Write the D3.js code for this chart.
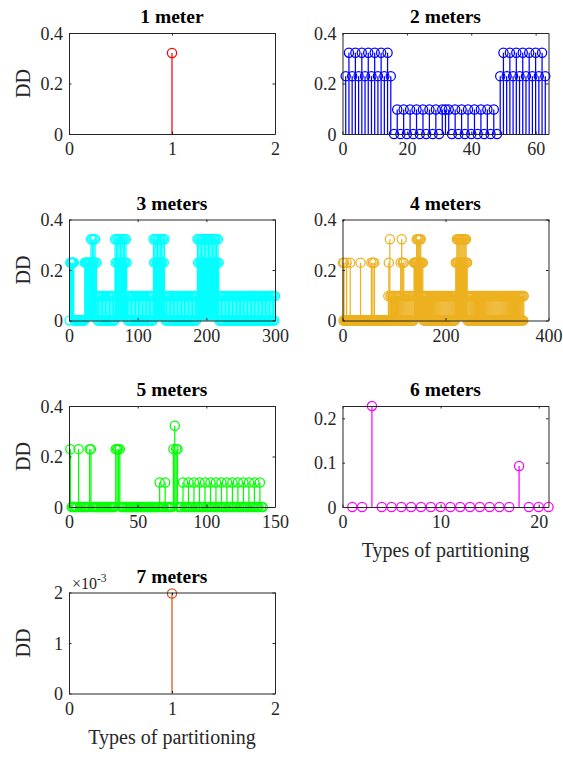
<!DOCTYPE html>
<html>
<head>
<meta charset="utf-8">
<script src="https://cdn.jsdelivr.net/npm/d3@7"></script>
<style>
  body { margin: 0; background: #fff; }
  svg { display: block; }
  text { font-family: 'Liberation Serif', 'Times New Roman', serif; }
</style>
</head>
<body>
<svg id="fig"></svg>
<script>
// ---- data ----
const titles = ["1 meter", "2 meters", "3 meters", "4 meters", "5 meters", "6 meters", "7 meters"];
const colors = ["#ff0000", "#0000ff", "#00ffff", "#edb120", "#00ff00", "#ff00ff", "#d95319"];

const dd1 = [.321];

const dd2 = [
  .229, .322, .229, .322, .229, .322, .229, .322, .229, .322, .229, .322, .229, .322, .229,
  0, .097, 0, .097, 0, .097, 0, .097, 0, .097, 0, .097, 0, .097, 0, .097,
  .097,
  .097, 0, .097, 0, .097, 0, .097, 0, .097, 0, .097, 0, .097, 0, .097, 0,
  .229, .322, .229, .322, .229, .322, .229, .322, .229, .322, .229, .322, .229, .322, .229
];

const dd3 = [
  // 1-22
  0, .229, .229, .229, .229, .229, .229, 0, 0, 0, 0, 0, 0, 0, 0, 0, 0, 0, 0, 0, 0, 0,
  // 23-40
  .229, .229, .229, .229, .229, .229, .229, .229, .229, .322, .229, .322, .229, .322, .229, .322, .229, .229,
  // 41-66
  .097, 0, .097, 0, .097, 0, .097, 0, .097, 0, .097, 0, .097, 0, .097, 0, .097, 0, .097, 0, .097, 0, .097, 0, .097, 0,
  // 67-84
  .322, .229, .322, .229, .322, .229, .322, .229, .322, .229, .322, .229, .322, .229, .322, .229, .322, .229,
  // 85-122
  .097, 0, .097, 0, .097, 0, .097, 0, .097, 0, .097, 0, .097, 0, .097, 0, .097, 0, .097, 0,
  .097, 0, .097, 0, .097, 0, .097, 0, .097, 0, .097, 0, .097, 0, .097, 0, .097, 0,
  // 123-139
  .322, .229, .322, .229, .322, .229, .322, .229, .322, .229, .322, .229, .322, .229, .322, .229, .322,
  // 140-186
  .097, 0, .097, 0, .097, 0, .097, 0, .097, 0, .097, 0, .097, 0, .097, 0, .097, 0, .097, 0,
  .097, 0, .097, 0, .097, 0, .097, 0, .097, 0, .097, 0, .097, 0, .097, 0, .097, 0, .097, 0,
  .097, 0, .097, 0, .097, 0, .097,
  // 187-218
  .322, .229, .322, .229, .322, .229, .322, .229, .322, .229, .322, .229, .322, .229, .322, .229,
  .322, .229, .322, .229, .322, .229, .322, .229, .322, .229, .322, .229, .322, .229, .322, .229,
  // 219-300
  0, .097, 0, .097, 0, .097, 0, .097, 0, .097, 0, .097, 0, .097, 0, .097, 0, .097, 0, .097,
  0, .097, 0, .097, 0, .097, 0, .097, 0, .097, 0, .097, 0, .097, 0, .097, 0, .097, 0, .097,
  0, .097, 0, .097, 0, .097, 0, .097, 0, .097, 0, .097, 0, .097, 0, .097, 0, .097, 0, .097,
  0, .097, 0, .097, 0, .097, 0, .097, 0, .097, 0, .097, 0, .097, 0, .097, 0, .097, 0, .097,
  0, .097
];

const dd4 = [
  // 1-15
  .229, 0, .229, 0, 0, 0, 0, .229, 0, 0, 0, 0, 0, 0, .229,
  // 16-34
  0, 0, 0, 0, 0, 0, 0, 0, 0, 0, 0, 0, 0, 0, 0, 0, 0, 0, 0,
  // 35
  .229,
  // 36-55
  0, 0, 0, 0, 0, 0, 0, 0, 0, 0, 0, 0, 0, 0, 0, 0, 0, 0, 0, 0,
  // 56-62
  .229, 0, 0, .229, 0, 0, .229,
  // 63-88
  0, 0, 0, 0, 0, 0, 0, 0, 0, 0, 0, 0, 0, 0, 0, 0, 0, 0, 0, 0, 0, 0, 0, 0, 0, 0,
  // 89-92
  .097, .229, 0, .322,
  // 93-112
  .097, 0, .097, 0, .097, 0, .097, 0, .097, 0, .097, 0, .097, 0, .097, 0, .097, 0, .097, 0,
  // 113-120
  .229, 0, .322, 0, .229, 0, .229, 0,
  // 121-138
  .097, 0, .097, 0, .097, 0, .097, 0, .097, 0, .097, 0, .097, 0, .097, 0, .097, 0,
  // 139-160
  .229, .229, .229, .229, .229, .322, .229, .322, .229, .322, .229, .322, .229, .322, .229,
  .229, .097, .229, .097, 0, .097, 0,
  // 161-219
  .097, 0, .097, 0, .097, 0, .097, 0, .097, 0, .097, 0, .097, 0, .097, 0, .097, 0, .097, 0,
  .097, 0, .097, 0, .097, 0, .097, 0, .097, 0, .097, 0, .097, 0, .097, 0, .097, 0, .097, 0,
  .097, 0, .097, 0, .097, 0, .097, 0, .097, 0, .097, 0, .097, 0, .097, 0, .097, 0, .097,
  // 220-242
  .229, .229, .322, .229, .322, .229, .322, .229, .322, .229, .322, .229, .322, .229, .322, .229,
  .322, .229, .322, .229, .322, .229, .229,
  // 243-352
  0, .097, 0, .097, 0, .097, 0, .097, 0, .097, 0, .097, 0, .097, 0, .097, 0, .097, 0, .097,
  0, .097, 0, .097, 0, .097, 0, .097, 0, .097, 0, .097, 0, .097, 0, .097, 0, .097, 0, .097,
  0, .097, 0, .097, 0, .097, 0, .097, 0, .097, 0, .097, 0, .097, 0, .097, 0, .097, 0, .097,
  0, .097, 0, .097, 0, .097, 0, .097, 0, .097, 0, .097, 0, .097, 0, .097, 0, .097, 0, .097,
  0, .097, 0, .097, 0, .097, 0, .097, 0, .097, 0, .097, 0, .097, 0, .097, 0, .097, 0, .097,
  0, .097, 0, .097, 0, .097, 0, .097, 0, .097
];

const dd5 = [
  // 1-16
  .229, 0, 0, 0, 0, 0, .229, 0, 0, 0, 0, 0, 0, 0, .229, .229,
  // 17-33
  0, 0, 0, 0, 0, 0, 0, 0, 0, 0, 0, 0, 0, 0, 0, 0, 0,
  // 34-37
  .229, .229, .229, .229,
  // 38-65
  0, 0, 0, 0, 0, 0, 0, 0, 0, 0, 0, 0, 0, 0, 0, 0, 0, 0, 0, 0, 0, 0, 0, 0, 0, 0, 0, 0,
  // 66-82
  .097, 0, 0, 0, .097, 0, 0, 0, 0, 0, .229, .322, .229, .229, 0, 0, 0,
  // 83-141
  .097, 0, 0, 0, .097, 0, 0, 0, .097, 0, 0, 0, .097, 0, 0, 0, .097, 0, 0, 0,
  .097, 0, 0, 0, .097, 0, 0, 0, .097, 0, 0, 0, .097, 0, 0, 0, .097, 0, 0, 0,
  .097, 0, 0, 0, .097, 0, 0, 0, .097, 0, 0, 0, .097, 0, 0, 0, .097, 0, 0
];

const dd6 = [0, 0, .2278, 0, 0, 0, 0, 0, 0, 0, 0, 0, 0, 0, 0, 0, 0, .0925, 0, 0, 0];

const dd7 = [.00198];

const xMax = [2, 64, 300, 400, 150, 21, 2];
const xTicks = [[0, 1, 2], [0, 20, 40, 60], [0, 100, 200, 300], [0, 200, 400], [0, 50, 100, 150], [0, 10, 20], [0, 1, 2]];
const yMax = [0.4, 0.4, 0.4, 0.4, 0.4, 0.2278, 0.002];
const yTicks = [[0, 0.2, 0.4], [0, 0.2, 0.4], [0, 0.2, 0.4], [0, 0.2, 0.4], [0, 0.2, 0.4], [0, 0.1, 0.2], [0, 0.001, 0.002]];
const yTickLabels = [["0", "0.2", "0.4"], ["0", "0.2", "0.4"], ["0", "0.2", "0.4"], ["0", "0.2", "0.4"],
                     ["0", "0.2", "0.4"], ["0", "0.1", "0.2"], ["0", "1", "2"]];

const series = [dd1, dd2, dd3, dd4, dd5, dd6, dd7];

// ---- layout ----
const W = 563, H = 758;
const colX = [69, 342.5];
const rowY = [33, 219.5, 406, 592.5];
const axW = 206, axH = 101;
const ink = "#262626";
const font = "'Liberation Serif', 'Times New Roman', serif";

const svg = d3.select("#fig")
  .attr("width", W)
  .attr("height", H)
  .attr("font-family", font);

svg.append("rect").attr("width", W).attr("height", H).attr("fill", "#fff");

series.forEach((vals, i) => {
  const col = i % 2, row = Math.floor(i / 2);
  const g = svg.append("g").attr("transform", `translate(${colX[col]},${rowY[row]})`);

  const x = d3.scaleLinear().domain([0, xMax[i]]).range([0, axW]);
  const y = d3.scaleLinear().domain([0, yMax[i]]).range([axH, 0]);

  const pts = vals.map((v, k) => ({ k: k + 1, v }));

  // stems
  g.selectAll("line.stem")
    .data(pts)
    .join("line")
    .attr("class", "stem")
    .attr("x1", d => x(d.k))
    .attr("x2", d => x(d.k))
    .attr("y1", y(0))
    .attr("y2", d => y(d.v))
    .attr("stroke", colors[i])
    .attr("stroke-width", 1.25);

  // markers
  g.selectAll("circle")
    .data(pts)
    .join("circle")
    .attr("cx", d => x(d.k))
    .attr("cy", d => y(d.v))
    .attr("r", 4.6)
    .attr("fill", "none")
    .attr("stroke", colors[i])
    .attr("stroke-width", 1.25);

  // box with inward ticks on all sides
  const yFmt = d => yTickLabels[i][yTicks[i].indexOf(d)];

  const bottom = g.append("g")
    .attr("transform", `translate(0,${axH})`)
    .call(d3.axisBottom(x).tickValues(xTicks[i]).tickSizeInner(-2.5).tickSizeOuter(0).tickFormat(d3.format("d")));
  bottom.selectAll("text").attr("y", 21).attr("dy", null);

  g.append("g")
    .call(d3.axisTop(x).tickValues(xTicks[i]).tickSizeInner(-2.5).tickSizeOuter(0).tickFormat(""));

  const left = g.append("g")
    .call(d3.axisLeft(y).tickValues(yTicks[i]).tickSizeInner(-2.5).tickSizeOuter(0).tickFormat(yFmt));
  left.selectAll("text").attr("x", -6).attr("dy", "0.34em");

  g.append("g")
    .attr("transform", `translate(${axW},0)`)
    .call(d3.axisRight(y).tickValues(yTicks[i]).tickSizeInner(-2.5).tickSizeOuter(0).tickFormat(""));

  g.selectAll("g").attr("font-family", font);
  g.selectAll(".domain").attr("stroke", ink).attr("stroke-width", 1);
  g.selectAll(".tick line").attr("stroke", ink).attr("stroke-width", 1);
  g.selectAll(".tick text")
    .attr("fill", ink)
    .attr("font-family", font)
    .attr("font-size", 18);

  // title
  g.append("text")
    .attr("x", axW / 2)
    .attr("y", -10)
    .attr("text-anchor", "middle")
    .attr("font-weight", "bold")
    .attr("font-size", 19.5)
    .attr("fill", "#000")
    .text(titles[i]);

  // y label on the left column
  if (col === 0) {
    g.append("text")
      .attr("transform", `translate(${-39},${axH / 2}) rotate(-90)`)
      .attr("text-anchor", "middle")
      .attr("font-size", 20)
      .attr("fill", ink)
      .text("DD");
  }

  // x label on the bottom plots
  if (i === 5 || i === 6) {
    g.append("text")
      .attr("x", axW / 2)
      .attr("y", axH + 50)
      .attr("text-anchor", "middle")
      .attr("font-size", 20)
      .attr("fill", ink)
      .text("Types of partitioning");
  }

  // exponent note
  if (i === 6) {
    const t = g.append("text")
      .attr("x", 3)
      .attr("y", -4)
      .attr("font-size", 16)
      .attr("fill", ink);
    t.append("tspan").text("\u00d710");
    t.append("tspan").attr("dy", -7).attr("font-size", 11.5).text("-3");
  }
});
</script>
</body>
</html>
